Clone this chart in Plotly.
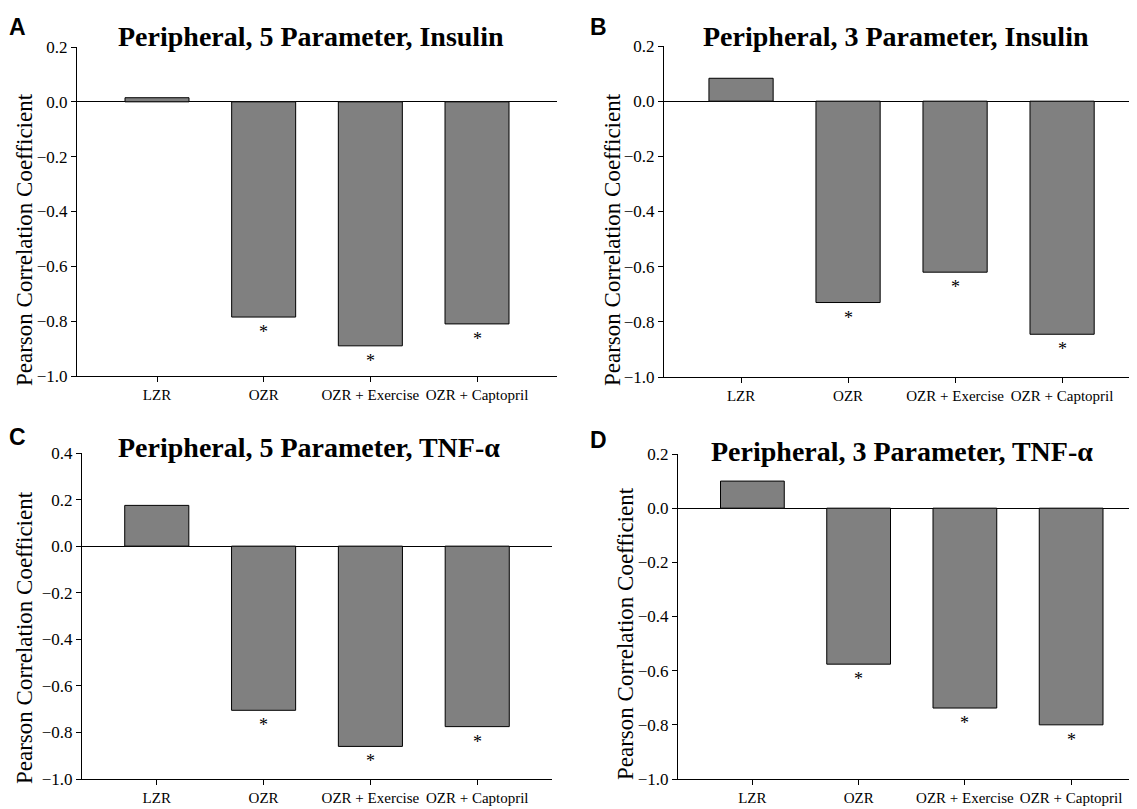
import plotly.graph_objects as go

# The page body has an 8px margin, so the figure is placed at (8, 8).
OFF = 8
W, H = 1137 - OFF, 809 - OFF

categories = ["LZR", "OZR", "OZR + Exercise", "OZR + Captopril"]

titles = [
    "Peripheral, 5 Parameter, Insulin",
    "Peripheral, 3 Parameter, Insulin",
    "Peripheral, 5 Parameter, TNF-α",
    "Peripheral, 3 Parameter, TNF-α",
]
panel_letters = ["A", "B", "C", "D"]

values_a = [0.015, -0.785, -0.89, -0.81]
values_b = [0.083, -0.73, -0.62, -0.845]
values_c = [0.175, -0.705, -0.86, -0.775]
values_d = [0.10, -0.576, -0.738, -0.80]

significant_a = [False, True, True, True]
significant_b = [False, True, True, True]
significant_c = [False, True, True, True]
significant_d = [False, True, True, True]

y_ranges = [[-1.0, 0.2], [-1.0, 0.2], [-1.0, 0.4], [-1.0, 0.2]]
x_ranges = [[-0.75, 3.75], [-0.72, 3.70], [-0.70, 3.70], [-0.70, 3.62]]

# pixel boxes in page coords: (left, right, top, bottom)
boxes = [
    (77, 557, 47, 376),
    (664, 1137, 46, 377),
    (82, 552, 453, 779),
    (678, 1137, 454, 779),
]
title_pos = [(311, 37), (896, 37), (309, 447), (902, 451)]
letter_pos = [(17, 27), (598, 27), (17, 437), (598, 440)]
ytitle_pos = [(24, 240), (612, 240), (24, 638), (625, 634)]

all_values = [values_a, values_b, values_c, values_d]
all_sig = [significant_a, significant_b, significant_c, significant_d]

SERIF = "Liberation Serif"
SANS = "Liberation Sans"


def px(x):
    return (x - OFF) / W


def py(y):
    return 1 - (y - OFF) / H


fig = go.Figure()
annotations = []
layout = dict(
    width=W, height=H,
    margin=dict(l=0, r=0, t=0, b=0, autoexpand=False),
    paper_bgcolor="white", plot_bgcolor="white",
    showlegend=False,
    font=dict(family=SERIF, color="black"),
)

for i in range(4):
    n = "" if i == 0 else str(i + 1)
    xa, ya = "x" + n, "y" + n
    left, right, top, bottom = boxes[i]
    fig.add_trace(go.Bar(
        x=categories, y=all_values[i], xaxis=xa, yaxis=ya,
        marker=dict(color="#808080", line=dict(color="black", width=1)),
        width=0.6,
    ))
    layout["xaxis" + n] = dict(
        domain=[px(left), min(px(right), 1.0)], anchor=ya,
        range=x_ranges[i], type="category",
        showline=True, linecolor="black", linewidth=1,
        ticks="outside", ticklen=5, tickcolor="black",
        showgrid=False, zeroline=False, tickangle=0, automargin=False,
        tickfont=dict(family=SERIF, size=15, color="black"),
    )
    layout["yaxis" + n] = dict(
        domain=[py(bottom), py(top)], anchor=xa,
        range=y_ranges[i], dtick=0.2, tickformat=".1f",
        showline=True, linecolor="black", linewidth=1,
        ticks="outside", ticklen=5, tickcolor="black", automargin=False,
        showgrid=False, zeroline=True, zerolinecolor="black", zerolinewidth=1,
        tickfont=dict(family=SERIF, size=17, color="black"),
    )
    # significance asterisks
    for c, v, s in zip(categories, all_values[i], all_sig[i]):
        if s:
            annotations.append(dict(
                x=c, y=v, xref=xa, yref=ya, text="*", showarrow=False,
                yanchor="top", yshift=-3,
                font=dict(family=SERIF, size=18, color="black"),
            ))
    tx, ty = title_pos[i]
    annotations.append(dict(
        x=px(tx), y=py(ty), xref="paper", yref="paper",
        text="<b>" + titles[i] + "</b>", showarrow=False,
        xanchor="center", yanchor="middle",
        font=dict(family=SERIF, size=28, color="black"),
    ))
    lx, ly = letter_pos[i]
    annotations.append(dict(
        x=px(lx), y=py(ly), xref="paper", yref="paper",
        text="<b>" + panel_letters[i] + "</b>", showarrow=False,
        xanchor="center", yanchor="middle",
        font=dict(family=SANS, size=23, color="black"),
    ))
    yx, yy = ytitle_pos[i]
    annotations.append(dict(
        x=px(yx), y=py(yy), xref="paper", yref="paper",
        text="Pearson Correlation Coefficient", showarrow=False, textangle=-90,
        xanchor="center", yanchor="middle",
        font=dict(family=SERIF, size=23, color="black"),
    ))

layout["annotations"] = annotations
fig.update_layout(**layout)
fig.write_html("out.html")
